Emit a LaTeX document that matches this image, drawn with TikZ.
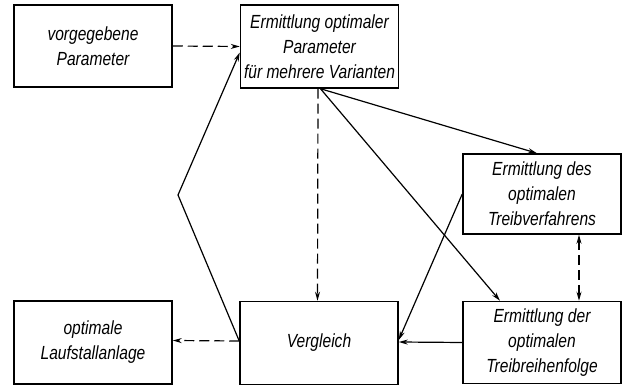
\documentclass[tikz,border=0pt]{standalone}
\usepackage{fontspec}
\setmainfont{Liberation Sans}[FakeStretch=0.82]
\usetikzlibrary{arrows.meta}
\tikzset{
  box/.style={draw, line width=1.5pt, minimum width=158pt, minimum height=82pt, align=center,
    font=\fontsize{19}{25}\selectfont\itshape, inner sep=2pt},
  arr/.style={line width=1.2pt, -{Stealth[length=9pt,width=5pt]}},
  darr/.style={arr, dash pattern=on 10pt off 5pt},
  ddarr/.style={line width=1.2pt, dash pattern=on 10pt off 5pt, {Stealth[length=9pt,width=5pt]}-{Stealth[length=9pt,width=5pt]}}
}
\begin{document}
\begin{tikzpicture}[x=1pt,y=-1pt]
\useasboundingbox (0,0) rectangle (625,387);
\node[box] (A) at (93,46) {vorgegebene\\Parameter};
\node[box, minimum height=83pt] (B) at (319.5,46.5) {Ermittlung optimaler\\Parameter\\für mehrere Varianten};
\node[box, minimum height=80pt] (C) at (542,194) {Ermittlung des\\optimalen\\Treibverfahrens};
\node[box, minimum height=83pt] (D) at (93,342.5) {optimale\\Laufstallanlage};
\node[box, minimum height=83pt] (E) at (319,343) {Vergleich};
\node[box] (F) at (542,342.5) {Ermittlung der\\optimalen\\Treibreihenfolge};
\coordinate (kink) at (178,195);
\draw[darr] (A.east) -- (B.west);
\draw[darr] ([xshift=-1.5pt]B.south) -- ([xshift=-1.5pt]E.north);
\draw[arr] ([xshift=1pt]B.south) -- ([xshift=-5pt]C.north);
\draw[arr] ([xshift=1pt]B.south) -- ([xshift=-42pt]F.north);
\draw[arr] (C.west) -- ([yshift=3pt]E.east);
\draw[arr] (F.west) -- ([yshift=1pt]E.east);
\draw[ddarr] ([xshift=37pt]C.south) -- ([xshift=37pt]F.north);
\draw[darr] ([yshift=2pt]E.west) -- ([yshift=2pt]D.east);
\draw[arr] ([yshift=2pt]E.west) -- (kink) -- ([yshift=-6pt]B.west);
\end{tikzpicture}
\end{document}
